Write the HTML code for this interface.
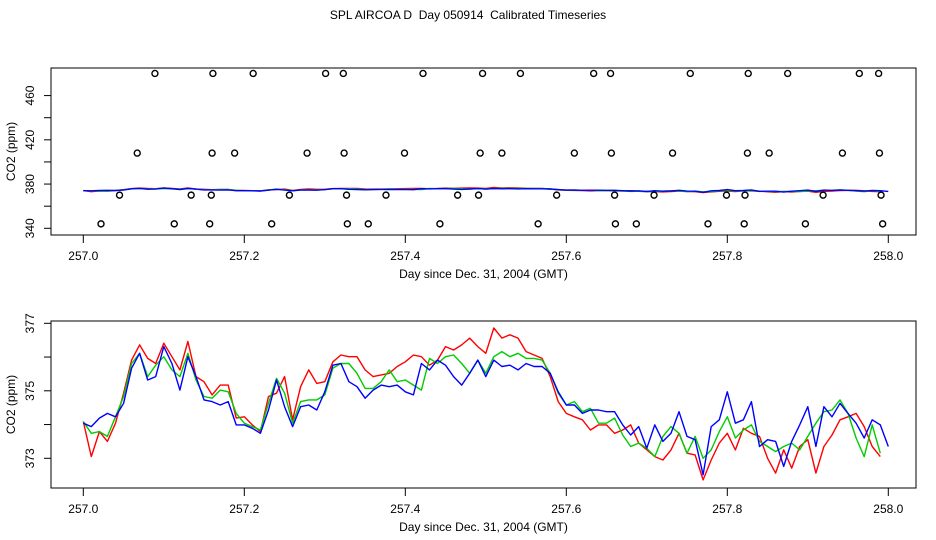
<!DOCTYPE html>
<html><head><meta charset="utf-8">
<style>
html,body{margin:0;padding:0;background:#fff;}
svg{display:block;font-family:"Liberation Sans",sans-serif;}
</style></head>
<body>
<svg id="chart" width="936" height="540" viewBox="0 0 936 540">
<rect width="936" height="540" fill="#fff"/>
<text x="468" y="19" text-anchor="middle" font-size="12" style="white-space:pre">SPL AIRCOA D  Day 050914  Calibrated Timeseries</text>
</svg>
<script>
// ---- data ----
const dayStart = 257.0;
const dayStep = 0.01;
const redSeries = [374.09,373.05,373.79,373.50,374.04,374.93,375.91,376.36,375.96,375.81,
376.41,376.01,375.62,376.46,375.42,375.27,374.88,375.17,375.17,374.19,
374.23,373.99,373.79,374.83,374.93,375.42,374.14,375.12,375.62,375.22,
375.27,375.86,376.06,376.01,376.01,375.62,375.42,375.47,375.52,375.72,
375.86,376.06,376.01,375.76,375.91,376.31,376.21,376.36,376.56,376.31,
376.11,376.86,376.56,376.66,376.56,376.16,376.06,375.96,375.42,374.68,
374.33,374.23,374.14,373.84,373.99,373.99,373.74,373.84,373.99,373.45,
373.25,373.05,372.95,373.25,373.74,373.15,373.10,372.36,372.95,373.45,
373.74,373.25,373.89,373.74,373.65,373.00,372.56,373.25,372.71,373.35,
373.55,372.56,373.35,373.69,374.14,374.23,374.33,373.94,373.35,373.05];
const greenSeries = [374.09,373.74,373.79,373.65,374.23,374.83,375.81,376.11,375.42,375.76,
376.01,375.62,375.42,376.11,375.32,374.83,374.78,375.02,374.97,374.33,
374.04,373.94,373.84,374.63,375.37,374.93,374.04,374.68,374.73,374.73,
374.88,375.67,375.81,375.81,375.52,375.07,375.07,375.27,375.62,375.27,
375.32,375.17,375.02,375.96,375.81,376.01,376.06,375.81,375.52,375.91,
375.52,376.01,376.16,376.01,376.11,375.96,375.96,375.91,375.52,374.93,
374.58,374.68,374.38,374.48,374.04,374.04,374.19,373.69,373.35,373.45,
373.30,373.05,373.65,373.94,373.74,373.15,373.65,373.00,373.25,373.79,
374.23,373.60,373.84,373.99,373.50,373.35,373.20,373.35,373.45,373.25,
373.65,374.04,374.38,374.43,374.73,374.33,373.60,373.05,373.99,373.15];
const blueSeries = [374.04,373.94,374.19,374.33,374.23,374.63,375.67,376.11,375.32,375.42,
376.31,375.81,375.02,376.01,375.42,374.73,374.68,374.58,374.68,373.99,
373.99,373.89,373.74,374.43,375.32,374.53,373.94,374.53,374.58,374.43,
374.97,375.76,375.81,375.27,375.12,374.78,375.02,375.17,375.12,375.17,
374.97,374.88,375.81,375.62,375.91,375.76,375.42,375.17,375.52,375.91,
375.42,375.91,375.72,375.76,375.62,375.81,375.72,375.72,375.52,374.97,
374.58,374.58,374.33,374.43,374.43,374.38,374.38,373.99,373.69,373.94,
373.30,373.99,373.50,373.74,374.38,373.65,373.55,372.51,373.94,374.14,
374.97,374.04,374.14,374.68,373.35,373.55,373.50,372.76,373.50,373.99,
374.53,373.35,374.53,374.23,374.63,374.33,374.04,373.60,374.14,373.99,373.35];
// flagged/out-of-range reference points in top panel
const flagDays480 = [257.089,257.161,257.211,257.301,257.323,257.422,257.496,257.543,257.634,257.655,257.754,257.826,257.875,257.964,257.988];
const flagDays408 = [257.067,257.160,257.188,257.278,257.324,257.399,257.493,257.520,257.610,257.656,257.732,257.825,257.852,257.943,257.989];
const flagDays370 = [257.045,257.134,257.159,257.256,257.327,257.376,257.465,257.491,257.588,257.660,257.709,257.799,257.822,257.919,257.991];
const flagDays344 = [257.022,257.113,257.157,257.234,257.328,257.354,257.443,257.565,257.661,257.687,257.776,257.821,257.897,257.993];
const xTicks = [257.0,257.2,257.4,257.6,257.8,258.0];
const xTickLabels = ["257.0","257.2","257.4","257.6","257.8","258.0"];
const topYTicks = [340,360,380,400,420,440,460];
const topYLabels = [340,380,420,460];
const botYTicks = [373,374,375,376,377];
const botYLabels = [373,375,377];

const NS="http://www.w3.org/2000/svg";
const svg=document.getElementById('chart');
function el(tag,attrs,parent){const e=document.createElementNS(NS,tag);for(const k in attrs)e.setAttribute(k,attrs[k]);(parent||svg).appendChild(e);return e;}
const xScale=d=>83.3+(d-257)*805;
const topY=v=>228.3-(v-340)*1.106;
const botY=v=>323.3+(377-v)*33.75;

function panel(name,box,yScale,yTicks,yLabels,labelX){
  const g=el('g',{});
  
  
  const r=el('rect',{x:box[0],y:box[1],width:box[2]-box[0],height:box[3]-box[1],fill:'none',stroke:'#000','stroke-width':1},g);
  
  
  xTicks.forEach((t,i)=>{
    const x=xScale(t);
    const l=el('line',{x1:x,x2:x,y1:box[3],y2:box[3]+8,stroke:'#000'},g);
    
    
    const tx=el('text',{x:x,y:box[3]+25,'text-anchor':'middle','font-size':12},g);
    
    
    tx.textContent=xTickLabels[i];
  });
  yTicks.forEach(t=>{
    const y=yScale(t);
    const l=el('line',{x1:box[0]-7,x2:box[0],y1:y,y2:y,stroke:'#000'},g);
    
    
  });
  yLabels.forEach(t=>{
    const y=yScale(t);
    const tx=el('text',{x:0,y:0,'text-anchor':'middle','font-size':12,transform:`translate(${labelX},${y}) rotate(-90)`},g);
    
    
    tx.textContent=String(t);
  });
  const cy=(box[1]+box[3])/2;
  const yt=el('text',{x:0,y:0,'text-anchor':'middle','font-size':12,transform:`translate(15,${cy}) rotate(-90)`},g);
  
  
  yt.textContent='CO2 (ppm)';
  const xt=el('text',{x:(box[0]+box[2])/2,y:box[3]+43,'text-anchor':'middle','font-size':12},g);
  
  
  xt.textContent='Day since Dec. 31, 2004 (GMT)';
  return g;
}
function series(g,data,color,yScale,name){
  const pts=data.map((v,i)=>xScale(dayStart+i*dayStep).toFixed(1)+','+yScale(v).toFixed(1)).join(' ');
  const p=el('polyline',{points:pts,fill:'none',stroke:color,'stroke-width':1.4,'stroke-linejoin':'round'},g);
  
  
}
const gTop=panel('top-panel',[51,68,916,235],topY,topYTicks,topYLabels,34);
series(gTop,redSeries,'#f00',topY,'top-red-series');
series(gTop,greenSeries,'#0c0',topY,'top-green-series');
series(gTop,blueSeries,'#00f',topY,'top-blue-series');
[[flagDays480,480],[flagDays408,408],[flagDays370,370],[flagDays344,344]].forEach(([arr,v])=>{
  arr.forEach(d=>{
    const c=el('circle',{cx:xScale(d),cy:topY(v),r:3,fill:'none',stroke:'#000','stroke-width':1.4},gTop);
    
    
  });
});
const gBot=panel('bottom-panel',[51,321,916,488],botY,botYTicks,botYLabels,34);
series(gBot,redSeries,'#f00',botY,'red-series');
series(gBot,greenSeries,'#0c0',botY,'green-series');
series(gBot,blueSeries,'#00f',botY,'blue-series');
</script>
</body></html>
